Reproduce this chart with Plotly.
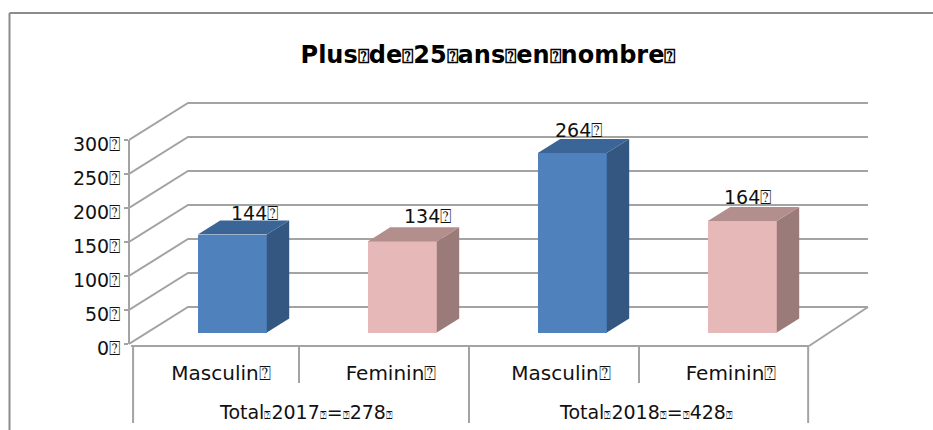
import plotly.graph_objects as go

BOX = "\u2370"
TITLE_WORDS = ["Plus", "de", "25", "ans", "en", "nombre"]
categories = ["Masculin", "Feminin", "Masculin", "Feminin"]
groups = [["Total", "2017", "=", "278"], ["Total", "2018", "=", "428"]]
values = [144, 134, 264, 164]
y_ticks = [0, 50, 100, 150, 200, 250, 300]

# styling / projection constants
W, H = 933, 430
PX_X, PX_Y = 170.0, 0.68            # pixels per category, pixels per unit
LEFT, RIGHT_PX, TOP_PX, BOT_PX = 129, 875, 90, 350
ZERO_PX = 344
DX, DY = 59 / PX_X, 37 / PX_Y       # wall depth in data units
BAR_W = 69 / PX_X
BAR_D0, BAR_D1 = 0.31, 0.69         # bar depth slab, fraction of wall depth
GRID = "#a3a3a3"
FONT = "DejaVu Sans"
COLORS = [("#4f81bd", "#335781", "#3a6596"), ("#e6b9b8", "#9a7b7a", "#b28f8d")] * 2
LABEL_SHIFT = [(0, -3), (3, 0), (-16, -2), (-17, -1)]


def px(x):
    return (x - LEFT) / (RIGHT_PX - LEFT)


def py(y):
    return (BOT_PX - y) / (BOT_PX - TOP_PX)


def boxed(words, size):
    mark = f'<span style="font-size:{size}px">{BOX}</span>'
    return mark.join(words) + mark


line = dict(color=GRID, width=2)
shapes = [
    dict(type="line", xref="paper", yref="paper", x0=px(9.5), x1=px(9.5), y0=py(13), y1=py(430),
         line=dict(color="#8c8c8c", width=2)),
    dict(type="line", xref="paper", yref="paper", x0=px(9.5), x1=px(933), y0=py(13), y1=py(13),
         line=dict(color="#8c8c8c", width=2)),
]
for v in y_ticks:
    shapes.append(dict(type="path", xref="x", yref="y", layer="below", line=line,
                       path=f"M0,{v} L{DX},{v + DY} L{4 + DX},{v + DY}"))
shapes += [
    dict(type="line", xref="paper", yref="paper", layer="above", line=line, x0=0, x1=0,
         y0=py(ZERO_PX), y1=py(ZERO_PX - y_ticks[-1] * PX_Y)),
    dict(type="line", xref="x", yref="y", layer="below", line=line, x0=4, x1=4 + DX, y0=-3, y1=DY),
    dict(type="line", xref="x", yref="y", layer="below", line=line, x0=0.012, x1=4, y0=-3, y1=-3),
]
for x, tall in [(0.024, True), (1, False), (2, True), (3, False), (3.995, True)]:
    shapes.append(dict(type="line", xref="x", yref="paper", x0=x, x1=x, y0=py(346),
                       y1=py(423 if tall else 383), line=line))

fig = go.Figure()
centers = [i + 0.5 + BAR_D0 * DX for i in range(4)]
bases = [BAR_D0 * DY] * 4
fig.add_trace(go.Bar(x=centers, y=values, base=bases, width=BAR_W,
                     marker=dict(color=[c[0] for c in COLORS], line=dict(width=0)),
                     hoverinfo="skip", showlegend=False))

d = (BAR_D1 - BAR_D0)
for c, v, b, col in zip(centers, values, bases, COLORS):
    l, r = c - BAR_W / 2, c + BAR_W / 2
    ox, oy = d * DX, d * DY
    top = b + v
    fig.add_trace(go.Scatter(x=[r, r + ox, r + ox, r, r], y=[b, b + oy, top + oy, top, b],
                             fill="toself", fillcolor=col[1], mode="lines", line=dict(width=0),
                             hoverinfo="skip", showlegend=False))
    fig.add_trace(go.Scatter(x=[l, l + ox, r + ox, r, l], y=[top, top + oy, top + oy, top, top],
                             fill="toself", fillcolor=col[2], mode="lines", line=dict(width=0),
                             hoverinfo="skip", showlegend=False))

annotations = []
for c, v, b, (sx, sy) in zip(centers, values, bases, LABEL_SHIFT):
    annotations.append(dict(x=c + d * DX, y=b + v + d * DY, text=f"{v}{BOX}", showarrow=False,
                            xref="x", yref="y", xanchor="center", yanchor="bottom",
                            xshift=sx, yshift=sy - 2, font=dict(family=FONT, size=19, color="#111")))
for i, g in enumerate(groups):
    annotations.append(dict(x=2 * i + 1, y=py(412), xref="x", yref="paper", text=boxed(g, 11),
                            showarrow=False, xanchor="center", yanchor="middle", xshift=7,
                            font=dict(family=FONT, size=19, color="#111")))

fig.update_layout(
    width=W, height=H, margin=dict(l=LEFT, r=W - RIGHT_PX, t=TOP_PX, b=H - BOT_PX),
    paper_bgcolor="white", plot_bgcolor="white",
    title=dict(text="<b>" + boxed(TITLE_WORDS, 19) + "</b>", xref="container", yref="container",
               x=488 / W, y=1 - 55 / H, xanchor="center", yanchor="middle",
               font=dict(family=FONT, size=24, color="#000")),
    xaxis=dict(range=[0, (RIGHT_PX - LEFT) / PX_X], tickvals=[i + 0.5 for i in range(4)],
               ticktext=[f"{c}{BOX}" for c in categories], showgrid=False, zeroline=False,
               showline=False, ticks="", ticklabelstandoff=9, ticklabelshift=7,
               tickfont=dict(family=FONT, size=20, color="#111"), fixedrange=True),
    yaxis=dict(range=[(ZERO_PX - BOT_PX) / PX_Y, (ZERO_PX - TOP_PX) / PX_Y], tickvals=y_ticks,
               ticktext=[f"{v}{BOX}" for v in y_ticks], showgrid=False, zeroline=False, showline=False,
               ticks="outside", ticklen=4, tickwidth=2, tickcolor=GRID, ticklabelshift=4,
               tickfont=dict(family=FONT, size=19, color="#111"), fixedrange=True),
    shapes=shapes, annotations=annotations, bargap=0,
)
fig.write_html("out.html", post_script="document.body.style.margin='0';document.body.style.overflow='hidden';",
               config={"displayModeBar": False})
